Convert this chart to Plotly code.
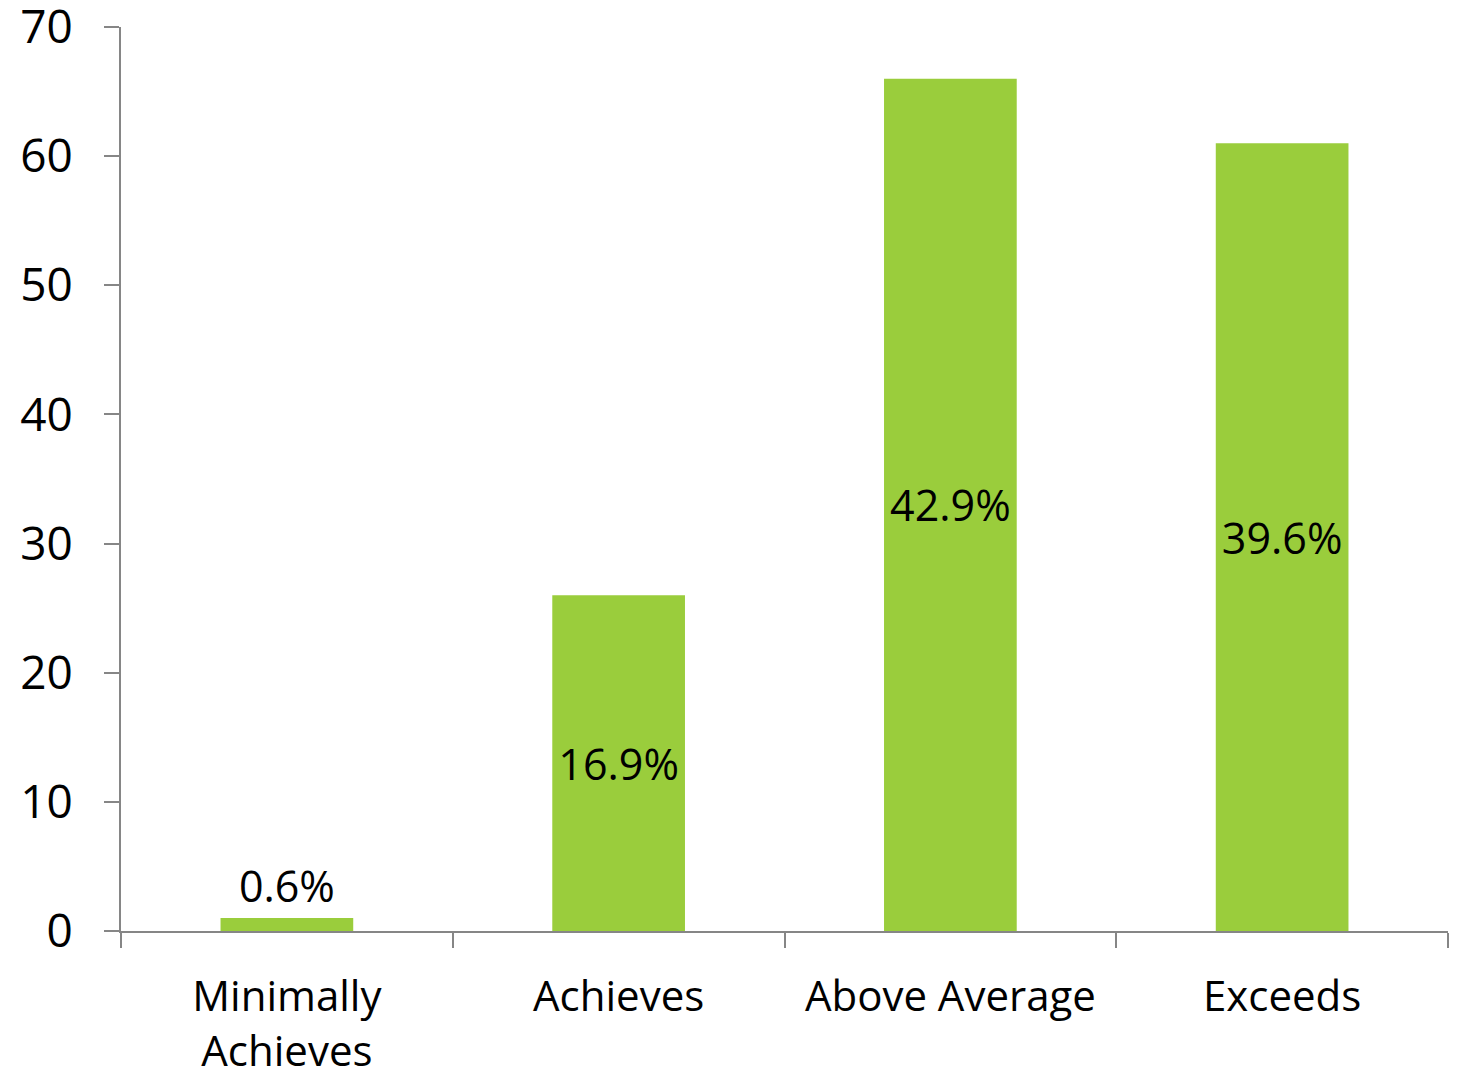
import plotly.graph_objects as go

categories = ["Minimally<br>Achieves", "Achieves", "Above Average", "Exceeds"]
counts = [1, 26, 66, 61]
labels = ["0.6%", "16.9%", "42.9%", "39.6%"]
y_ticks = [0, 10, 20, 30, 40, 50, 60, 70]

FONT = "Open Sans"
AX = "#868686"

fig = go.Figure()
fig.add_trace(go.Bar(
    x=categories, y=counts, text=labels,
    textposition=["outside", "inside", "inside", "inside"],
    insidetextanchor="middle",
    textangle=0,
    cliponaxis=False,
    textfont=dict(family=FONT, size=43, color="black"),
    marker=dict(color="#9ACD3C", line=dict(width=0)),
    width=0.4,
))

fig.update_layout(
    width=1455, height=1065,
    margin=dict(l=113, r=15, t=19, b=142, autoexpand=False),
    paper_bgcolor="white", plot_bgcolor="white",
    showlegend=False,
    font=dict(family=FONT, size=42, color="black"),
)
fig.update_xaxes(
    automargin=False,
    showline=True, linecolor=AX, linewidth=2,
    ticks="outside", tickson="boundaries", ticklen=15, tickcolor=AX, tickwidth=2,
    showgrid=False, tickfont=dict(family=FONT, size=42, color="black"),
    ticklabelstandoff=28,
)
fig.update_yaxes(
    automargin=False,
    range=[0, 70], tickvals=y_ticks,
    showline=True, linecolor=AX, linewidth=2,
    ticks="outside", ticklen=15, tickcolor=AX, tickwidth=2,
    showgrid=False, zeroline=False,
    tickfont=dict(family=FONT, size=46, color="black"),
    ticklabelstandoff=22,
    ticklabeloverflow="allow",
)

fig.write_html("out.html")
